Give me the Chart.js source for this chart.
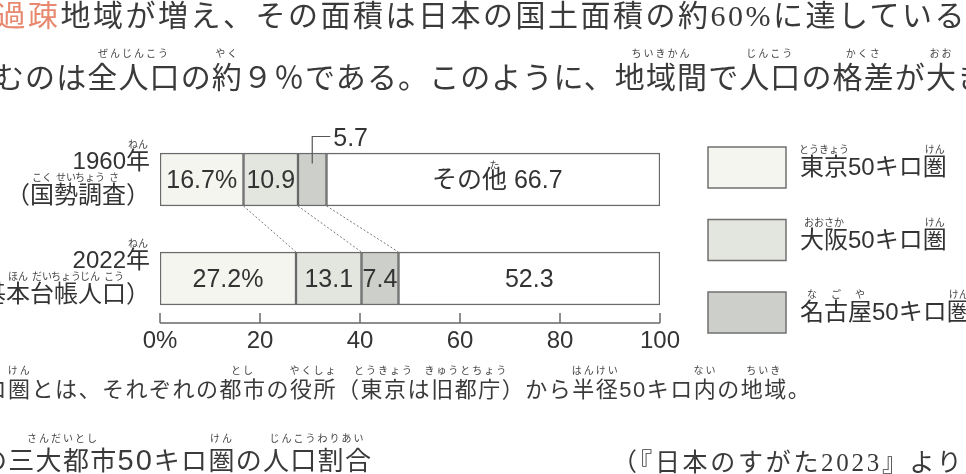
<!DOCTYPE html>
<html><head><meta charset="utf-8">
<script src="https://cdn.jsdelivr.net/npm/chart.js@4/dist/chart.umd.min.js"></script>
<style>
html,body{margin:0;padding:0;background:#fff;width:966px;height:474px;overflow:hidden;}
#wrap{position:relative;width:966px;height:474px;overflow:hidden;}
canvas{position:absolute;left:0;top:0;}
.ln{position:absolute;white-space:nowrap;color:#3a3a3a;}
.serif{font-family:'Liberation Serif','Noto Sans CJK JP',serif;}
.sans{font-family:'Liberation Sans','Noto Sans CJK JP',sans-serif;}
.rb{position:relative;}
.rb i{position:absolute;left:50%;transform:translateX(-50%);top:var(--rt);font-size:10px;line-height:10px;font-style:normal;letter-spacing:2px;white-space:nowrap;font-family:'Noto Sans CJK JP',sans-serif;color:#444;}
</style></head>
<body><div id="wrap">
<canvas id="c" width="966" height="474"></canvas>
<div class="ln serif" style="left:-4.5px;top:1px;font-size:30px;line-height:30px;letter-spacing:2.5px;--rt:-13px"><span class="rb" style="color:#e8886f">過疎<i style="color:#e8886f">かそ</i></span><span class="rb">地域<i>ちいき</i></span>が増え、その面積は日本の国土面積の約60%に達している。</div>
<div class="ln serif" style="left:-6px;top:63px;font-size:30px;line-height:30px;letter-spacing:1.1px;--rt:-13px">むのは<span class="rb">全人口<i>ぜんじんこう</i></span>の<span class="rb">約<i>やく</i></span>９％である。このように、<span class="rb">地域間<i>ちいきかん</i></span>で<span class="rb">人口<i>じんこう</i></span>の<span class="rb">格差<i>かくさ</i></span>が<span class="rb">大<i>おお</i></span>きく</div>
<div class="ln sans" style="right:958px;top:379px;font-size:22px;line-height:22px;letter-spacing:1.5px">50キロ</div>
<div class="ln sans" style="left:8px;top:379px;font-size:22px;line-height:22px;letter-spacing:1.5px;--rt:-12px"><span class="rb">圏<i>けん</i></span>とは、それぞれの<span class="rb">都市<i>とし</i></span>の<span class="rb">役所<i>やくしょ</i></span>（<span class="rb">東京<i>とうきょう</i></span>は<span class="rb">旧都庁<i>きゅうとちょう</i></span>）から<span class="rb">半径<i>はんけい</i></span>50キロ<span class="rb">内<i>ない</i></span>の<span class="rb">地域<i>ちいき</i></span>。</div>
<div class="ln sans" style="left:-19px;top:447px;font-size:26px;line-height:26px;letter-spacing:1.3px;--rt:-13px">の<span class="rb">三大都市<i>さんだいとし</i></span><span style="font-size:29px;letter-spacing:2px">50</span>キロ<span class="rb">圏<i>けん</i></span>の<span class="rb">人口割合<i>じんこうわりあい</i></span></div>
<div class="ln serif" style="left:612px;top:450px;font-size:25px;line-height:25px;letter-spacing:2.7px">（『日本のすがた2023』より）</div>
</div>
<script>
const categories = ['1960年', '2022年'];
const sources = ['（国勢調査）', '（住民基本台帳人口）'];
const seriesNames = ['東京50キロ圏', '大阪50キロ圏', '名古屋50キロ圏', 'その他'];
const tokyo = [16.7, 27.2];
const osaka = [10.9, 13.1];
const nagoya = [5.7, 7.4];
const others = [66.7, 52.3];
const xTicks = [0, 20, 40, 60, 80, 100];
const fills = ['#f4f5ef', '#e3e5df', '#cdcfcb', '#ffffff'];

const FONT = "'Liberation Sans','Noto Sans CJK JP',sans-serif";
const RUBYFONT = "10px 'Noto Sans CJK JP',sans-serif";
const TXT = '#333';

// furigana for canvas texts: [char index start, end, reading]
const yRuby = [
  [[[4, 5, 'ねん']], [[1, 2, 'こく'], [2, 3, 'せい'], [3, 4, 'ちょう'], [4, 5, 'さ']]],
  [[[4, 5, 'ねん']], [[1, 2, 'じゅう'], [2, 3, 'みん'], [3, 4, 'き'], [4, 5, 'ほん'], [5, 6, 'だい'], [6, 7, 'ちょう'], [7, 8, 'じん'], [8, 9, 'こう']]]
];
const legendRuby = [
  [[0, 2, 'とうきょう'], [6, 7, 'けん']],
  [[0, 2, 'おおさか'], [6, 7, 'けん']],
  [[0, 1, 'な'], [1, 2, 'ご'], [2, 3, 'や'], [7, 8, 'けん']]
];

function drawRuby(ctx, text, font, leftX, centerY, list, dy) {
  ctx.save();
  ctx.font = font;
  const pos = list.map(([a, b, r]) => {
    const x0 = leftX + ctx.measureText(text.slice(0, a)).width;
    const x1 = leftX + ctx.measureText(text.slice(0, b)).width;
    return [(x0 + x1) / 2, r];
  });
  ctx.font = RUBYFONT;
  ctx.fillStyle = '#444';
  ctx.textAlign = 'center';
  ctx.textBaseline = 'middle';
  pos.forEach(([x, r]) => ctx.fillText(r, x, centerY + dy));
  ctx.restore();
}

const overlay = {
  id: 'overlay',
  afterDraw(chart) {
    const ctx = chart.ctx, xs = chart.scales.x, ys = chart.scales.y, ca = chart.chartArea;
    const el = (d, i) => chart.getDatasetMeta(d).data[i];
    ctx.save();
    // axis line with upward ticks
    const axisY = ca.bottom - 5;
    ctx.strokeStyle = '#6a6a6a'; ctx.lineWidth = 1.5;
    ctx.beginPath();
    ctx.moveTo(xs.getPixelForValue(xTicks[0]), axisY);
    ctx.lineTo(xs.getPixelForValue(xTicks[xTicks.length - 1]), axisY);
    xTicks.forEach(v => { const x = xs.getPixelForValue(v); ctx.moveTo(x, axisY); ctx.lineTo(x, axisY - 10); });
    ctx.stroke();

    // dotted connectors
    ctx.strokeStyle = '#777'; ctx.lineWidth = 1; ctx.setLineDash([2, 2]);
    for (let d = 0; d < 3; d++) {
      const a = el(d, 0), b = el(d, 1);
      ctx.beginPath();
      ctx.moveTo(a.x, a.y + a.height / 2);
      ctx.lineTo(b.x, b.y - b.height / 2);
      ctx.stroke();
    }
    ctx.setLineDash([]);

    // in-bar labels
    ctx.fillStyle = TXT; ctx.font = '25px ' + FONT; ctx.textBaseline = 'middle'; ctx.textAlign = 'center';
    chart.data.datasets.forEach((ds, d) => {
      ds.data.forEach((v, i) => {
        const e = el(d, i);
        const cx = (e.x + e.base) / 2;
        let t = String(v);
        if (d === 0) t = v + '%';
        if (d === 2 && i === 0) {
          // leader label
          ctx.strokeStyle = '#555'; ctx.lineWidth = 1.2;
          ctx.beginPath();
          ctx.moveTo(cx, e.y - 16); ctx.lineTo(cx, e.y - 43); ctx.lineTo(cx + 18, e.y - 43);
          ctx.stroke();
          ctx.textAlign = 'left';
          ctx.fillText(t, cx + 21, e.y - 40);
          ctx.textAlign = 'center';
          return;
        }
        if (d === 3 && i === 0) {
          t = ds.label + ' ' + v;
          ctx.fillText(t, cx + 4, e.y + 2);
          const left = cx + 4 - ctx.measureText(t).width / 2;
          drawRuby(ctx, t, '25px ' + FONT, left, e.y + 2, [[2, 3, 'た']], -16);
          ctx.font = '25px ' + FONT; ctx.fillStyle = TXT; ctx.textAlign = 'center'; ctx.textBaseline = 'middle';
          return;
        }
        ctx.fillText(t, cx, e.y + 2);
      });
    });

    // y label furigana
    const yFont = '24px ' + FONT;
    categories.forEach((c, i) => {
      const py = ys.getPixelForTick(i);
      const right = ca.left - 10;
      ctx.font = yFont;
      const w1 = ctx.measureText(c).width, w2 = ctx.measureText(sources[i]).width;
      drawRuby(ctx, c, yFont, right - w1, py - 17, yRuby[i][0], -18);
      drawRuby(ctx, sources[i], yFont, right - w2, py + 17, yRuby[i][1], -19);
    });

    // legend
    const lFont = '24px ' + FONT;
    for (let d = 0; d < 3; d++) {
      const ds = chart.data.datasets[d];
      const bx = 708, by = 147 + d * 72.5, bw = 78, bh = 41;
      ctx.fillStyle = ds.backgroundColor; ctx.fillRect(bx, by, bw, bh);
      ctx.strokeStyle = '#707070'; ctx.lineWidth = 1.5; ctx.strokeRect(bx, by, bw, bh);
      ctx.fillStyle = TXT; ctx.font = lFont; ctx.textAlign = 'left'; ctx.textBaseline = 'middle';
      ctx.fillText(ds.label, 800, by + bh / 2 + 1);
      drawRuby(ctx, ds.label, lFont, 800, by + bh / 2 + 1, legendRuby[d], -19);
    }
    ctx.restore();
  }
};

new Chart(document.getElementById('c'), {
  type: 'bar',
  data: {
    labels: categories.map((c, i) => [c, sources[i]]),
    datasets: [tokyo, osaka, nagoya, others].map((arr, k) => ({
      label: seriesNames[k],
      data: arr,
      backgroundColor: fills[k],
      borderColor: '#6a6a6a',
      borderWidth: 1.5,
      borderSkipped: false,
      barThickness: 53
    }))
  },
  options: {
    indexAxis: 'y',
    responsive: false,
    animation: false,
    devicePixelRatio: 1,
    layout: { padding: { left: 0, right: 306, top: 130, bottom: 116 } },
    plugins: { legend: { display: false }, tooltip: { enabled: false } },
    scales: {
      x: {
        stacked: true, min: 0, max: 100,
        afterBuildTicks: s => { s.ticks = xTicks.map(v => ({ value: v })); },
        afterFit: s => { s.height = 30; },
        grid: { display: false, drawTicks: false },
        border: { display: false },
        ticks: { padding: 0, color: TXT, font: { family: FONT, size: 24, lineHeight: 1.1 },
          callback: (v, i) => i === 0 ? v + '%' : String(v) }
      },
      y: {
        stacked: true,
        afterFit: s => { s.width = 160; },
        grid: { display: false, drawTicks: false },
        border: { display: false },
        ticks: { padding: 10, color: TXT, font: { family: FONT, size: 24, lineHeight: 1.42 } }
      }
    }
  },
  plugins: [overlay]
});
</script>
</body></html>
